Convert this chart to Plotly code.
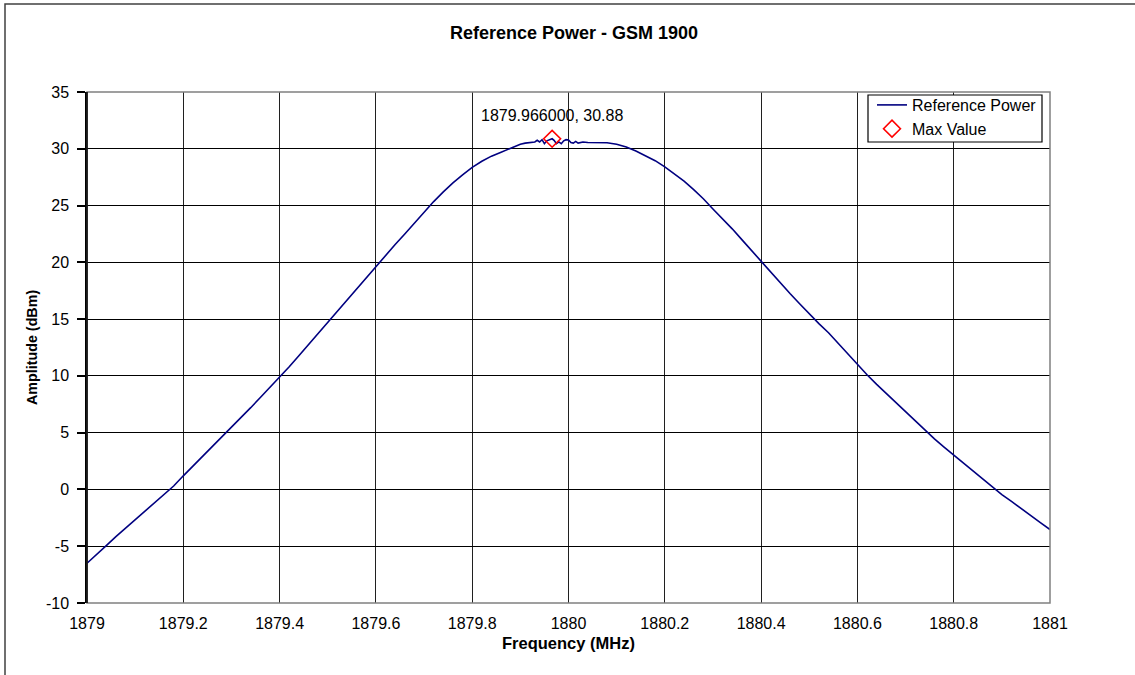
import plotly.graph_objects as go

freq = [
    1879.00, 1879.02, 1879.04, 1879.06, 1879.08, 1879.10, 1879.12, 1879.14, 1879.16, 1879.18,
    1879.20, 1879.22, 1879.24, 1879.26, 1879.28, 1879.30, 1879.32, 1879.34, 1879.36, 1879.38,
    1879.40, 1879.42, 1879.44, 1879.46, 1879.48, 1879.50, 1879.52, 1879.54, 1879.56, 1879.58,
    1879.60, 1879.62, 1879.64, 1879.66, 1879.68, 1879.70, 1879.72, 1879.74, 1879.76, 1879.78,
    1879.80, 1879.82, 1879.84, 1879.86, 1879.88, 1879.90, 1879.91, 1879.92, 1879.93, 1879.935,
    1879.94, 1879.945, 1879.95, 1879.955, 1879.96, 1879.966, 1879.97, 1879.975, 1879.98, 1879.985,
    1879.99, 1879.995, 1880.00, 1880.005, 1880.01, 1880.015, 1880.02, 1880.03, 1880.04, 1880.06,
    1880.08, 1880.10, 1880.12, 1880.14, 1880.16, 1880.18, 1880.20, 1880.22, 1880.24, 1880.26,
    1880.28, 1880.30, 1880.32, 1880.34, 1880.36, 1880.38, 1880.40, 1880.42, 1880.44, 1880.46,
    1880.48, 1880.50, 1880.52, 1880.54, 1880.56, 1880.58, 1880.60, 1880.62, 1880.64, 1880.66,
    1880.68, 1880.70, 1880.72, 1880.74, 1880.76, 1880.78, 1880.80, 1880.82, 1880.84, 1880.86,
    1880.88, 1880.90, 1880.92, 1880.94, 1880.96, 1880.98, 1881.00,
]
power = [
    -6.5, -5.75, -4.95, -4.15, -3.4, -2.65, -1.92, -1.2, -0.47, 0.3,
    1.2, 2.05, 2.9, 3.75, 4.6, 5.45, 6.3, 7.2, 8.1, 8.97,
    9.85, 10.8, 11.77, 12.75, 13.75, 14.75, 15.73, 16.72, 17.7, 18.7,
    19.7, 20.63, 21.57, 22.5, 23.45, 24.4, 25.35, 26.2, 27.0, 27.7,
    28.36, 28.9, 29.35, 29.7, 30.05, 30.4, 30.5, 30.55, 30.6, 30.75,
    30.6, 30.8, 30.45, 30.7, 30.8, 30.88, 30.75, 30.45, 30.6, 30.45,
    30.7, 30.8, 30.78, 30.55, 30.5, 30.65, 30.5, 30.6, 30.55, 30.55,
    30.53, 30.4, 30.15, 29.8, 29.4, 28.95, 28.4, 27.8, 27.15, 26.4,
    25.6, 24.7, 23.85, 22.95, 22.0, 21.05, 20.05, 19.1, 18.2, 17.25,
    16.35, 15.45, 14.6, 13.8, 12.88, 11.93, 10.97, 10.1, 9.25, 8.45,
    7.65, 6.85, 6.0, 5.2, 4.45, 3.73, 3.03, 2.3, 1.6, 0.9,
    0.2, -0.45, -1.05, -1.7, -2.3, -2.92, -3.53,
]

max_freq = [1879.966]
max_power = [30.88]
max_label = "1879.966000, 30.88"

x_ticks = [1879, 1879.2, 1879.4, 1879.6, 1879.8, 1880, 1880.2, 1880.4, 1880.6, 1880.8, 1881]
x_tick_text = ["1879", "1879.2", "1879.4", "1879.6", "1879.8", "1880", "1880.2", "1880.4", "1880.6", "1880.8", "1881"]
y_ticks = [-10, -5, 0, 5, 10, 15, 20, 25, 30, 35]
y_tick_text = ["-10", "-5", "0", "5", "10", "15", "20", "25", "30", "35"]

W, H = 1135, 675
# plot area in screen pixels: x 87..1050, y 92..603
L, R, T, B = 87, 1135 - 1050, 92, 675 - 603
FONT = "Liberation Sans, Arial, sans-serif"

pw = W - L - R
ph = H - T - B


def sx(p):  # screen pixel x -> paper
    return (p - L) / pw


def sy(p):  # screen pixel y -> paper
    return (T + ph - p) / ph


fig = go.Figure()
fig.add_trace(go.Scatter(
    x=freq, y=power, mode="lines", name="Reference Power",
    line=dict(color="#000080", width=1.6),
))
fig.add_trace(go.Scatter(
    x=max_freq, y=max_power, mode="markers", name="Max Value",
    marker=dict(symbol="diamond-open", size=13, color="#ff0000", line=dict(width=1.6, color="#ff0000")),
))

fig.update_layout(
    width=W, height=H,
    margin=dict(l=L, r=R, t=T, b=B, pad=0),
    paper_bgcolor="white", plot_bgcolor="white",
    font=dict(family=FONT, size=16, color="black"),
    showlegend=True,
    legend=dict(
        x=sx(1042), y=sy(88), xanchor="right", yanchor="top",
        borderwidth=0, bgcolor="rgba(0,0,0,0)",
        font=dict(family=FONT, size=16, color="black"),
        tracegroupgap=0, itemwidth=30,
    ),
    xaxis=dict(
        range=[1879, 1881], tickvals=x_ticks, ticktext=x_tick_text,
        showgrid=True, gridcolor="#202020", gridwidth=1,
        zeroline=False, showline=False, ticks="", ticklabelstandoff=9,
        tickfont=dict(family=FONT, size=16, color="black"),
    ),
    yaxis=dict(
        range=[-10, 35], tickvals=y_ticks, ticktext=y_tick_text,
        showgrid=True, gridcolor="black", gridwidth=1,
        zeroline=False, showline=True, linecolor="black", linewidth=1.5,
        ticks="outside", ticklen=8, tickcolor="black", tickwidth=1.5,
        ticklabelstandoff=5,
        tickfont=dict(family=FONT, size=16, color="black"),
    ),
    annotations=[
        dict(text="<b>Reference Power - GSM 1900</b>", xref="paper", yref="paper",
             x=sx(574), y=sy(33), xanchor="center", yanchor="middle",
             showarrow=False, font=dict(family=FONT, size=18, color="black")),
        dict(text="<b>Frequency (MHz)</b>", xref="paper", yref="paper",
             x=sx(568), y=sy(643), xanchor="center", yanchor="middle",
             showarrow=False, font=dict(family=FONT, size=16.5, color="black")),
        dict(text="<b>Amplitude (dBm)</b>", xref="paper", yref="paper", textangle=-90,
             x=sx(32), y=sy(348), xanchor="center", yanchor="middle",
             showarrow=False, font=dict(family=FONT, size=14.3, color="black")),
        dict(text=max_label, x=max_freq[0], y=max_power[0], xref="x", yref="y",
             showarrow=False, yshift=23, xanchor="center", yanchor="middle",
             font=dict(family=FONT, size=16, color="black")),
    ],
    shapes=[
        # legend box
        dict(type="rect", xref="paper", yref="paper",
             x0=sx(868), y0=sy(142), x1=sx(1042), y1=sy(95),
             line=dict(color="black", width=1.2), fillcolor="white", layer="above"),
        # plot area border
        dict(type="rect", xref="paper", yref="paper", x0=0, y0=0, x1=1, y1=1,
             line=dict(color="#808080", width=1.5), layer="above"),
        dict(type="line", xref="paper", yref="paper", x0=0, y0=0, x1=0, y1=1,
             line=dict(color="black", width=1.5), layer="above"),
        # outer chart border
        dict(type="rect", xref="paper", yref="paper",
             x0=sx(5), y0=sy(4), x1=sx(1135 + 20), y1=sy(675 + 20),
             line=dict(color="#404040", width=1.5), layer="above"),
    ],
)

fig.write_html(
    "out.html",
    config={"displayModeBar": False},
    post_script="document.body.style.margin='0';document.body.style.padding='0';",
)
